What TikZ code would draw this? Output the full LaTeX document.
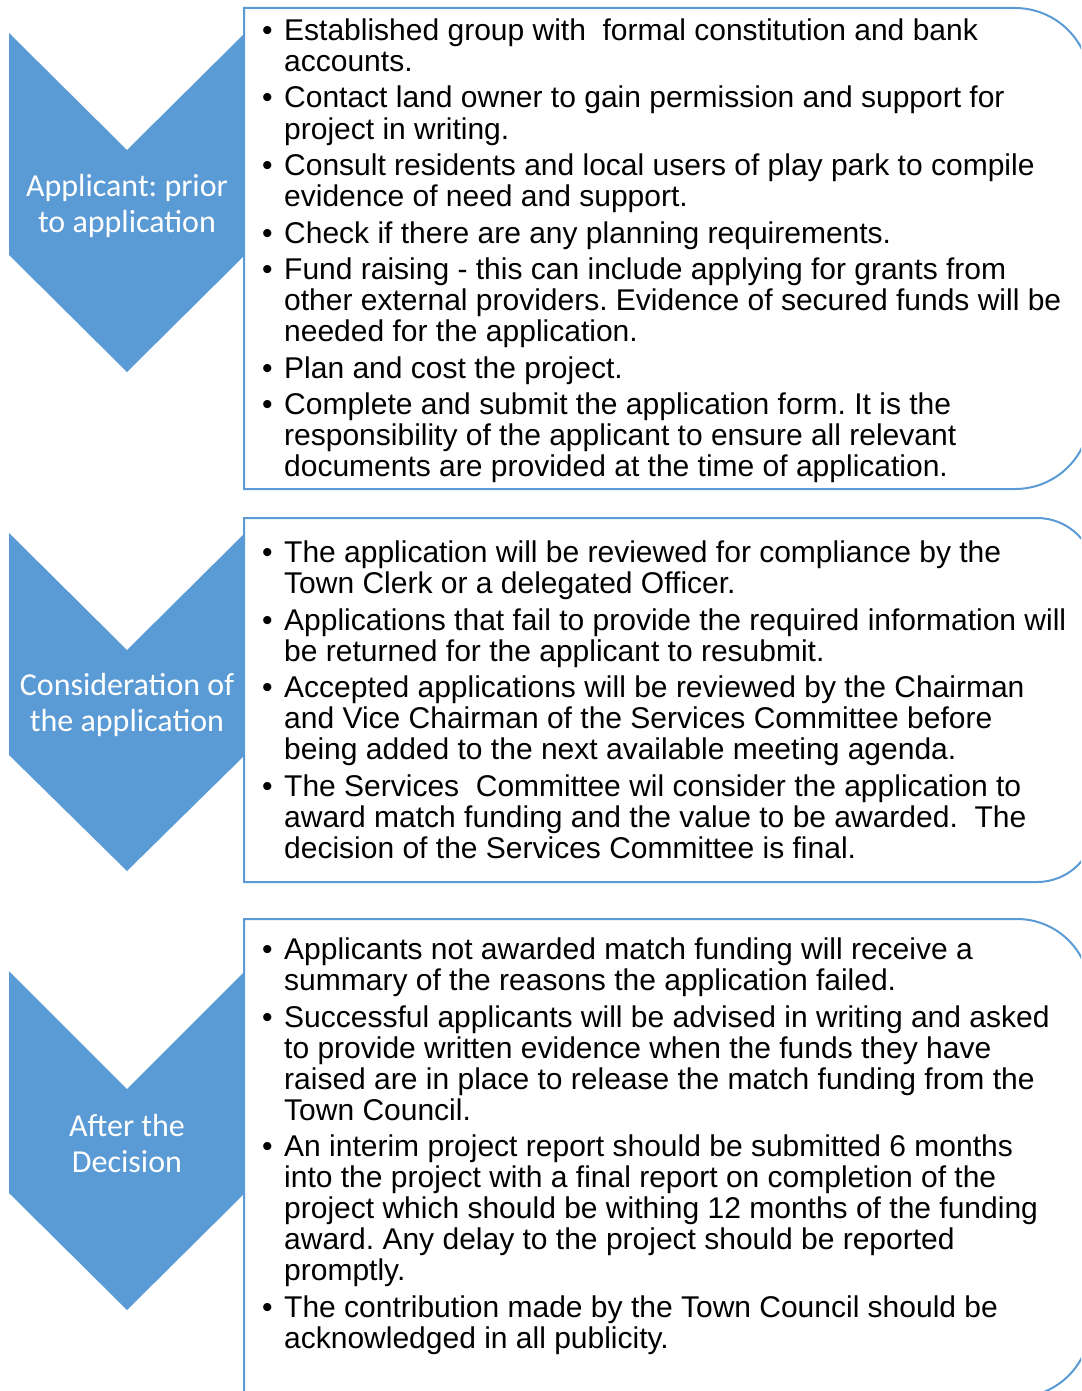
\documentclass[tikz,border=0pt]{standalone}
\usepackage{fontspec}
\setmainfont{Liberation Sans}
\newfontfamily\chevfont{Carlito}
\definecolor{acc}{HTML}{5B9BD5}
\frenchspacing
\newcommand\itm[3]{%
  \node[bulst] (#1b) at (262,#2+1.5) {•};
  \node[itmst] (#1) at (284,#2+1.5) {\begin{tabular}[t]{@{}l@{}}#3\end{tabular}};}
\begin{document}
\begin{tikzpicture}[x=1pt,y=-1pt,
  chev/.style={fill=acc},
  cbox/.style={draw=acc,line width=2pt,fill=white},
  clab/.style={text=white,font=\chevfont\fontsize{32}{36}\selectfont,align=center,inner sep=0pt},
  bulst/.style={anchor=base west,inner sep=0pt,font=\fontsize{30}{31}\selectfont\frenchspacing},
  itmst/.style={anchor=base west,inner sep=0pt,font=\fontsize{30}{31}\selectfont\frenchspacing}]
\useasboundingbox (0,0) rectangle (1081,1391);
\begin{scope}
\clip (0,0) rectangle (1081,1391);
% chevrons
\fill[chev] (9,33) -- (127,150) -- (245,33) -- (245,255) -- (127,372) -- (9,255) -- cycle;
\fill[chev] (9,533) -- (127,650) -- (245,533) -- (245,755) -- (127,871) -- (9,755) -- cycle;
\fill[chev] (9,971) -- (127,1089) -- (245,971) -- (245,1193) -- (127,1310) -- (9,1193) -- cycle;
% boxes
\draw[cbox] (244,8) -- (1015,8) arc(-90:0:75) -- (1090,414) arc(0:90:75) -- (244,489) -- cycle;
\draw[cbox] (244,518) -- (1037,518) arc(-90:0:58) -- (1095,824) arc(0:90:58) -- (244,882) -- cycle;
\draw[cbox] (244,919) -- (1017,919) arc(-90:0:73) -- (1090,1324) arc(0:90:73) -- (244,1397) -- cycle;
\end{scope}
% chevron labels
\node[clab] (c1) at (127,206) {Applicant: prior\\to application};
\node[clab] (c2) at (127,705) {Consideration of\\the application};
\node[clab] (c3) at (127,1143) {After the\\Decision};
% box 1
\itm{a1}{39}{Established group with~ formal constitution and bank\\accounts.}
\itm{a2}{106.5}{Contact land owner to gain permission and support for\\project in writing.}
\itm{a3}{174}{Consult residents and local users of play park to compile\\evidence of need and support.}
\itm{a4}{241.5}{Check if there are any planning requirements.}
\itm{a5}{278}{Fund raising - this can include applying for grants from\\other external providers. Evidence of secured funds will be\\needed for the application.}
\itm{a6}{376.5}{Plan and cost the project.}
\itm{a7}{413}{Complete and submit the application form. It is the\\responsibility of the applicant to ensure all relevant\\documents are provided at the time of application.}
% box 2
\itm{b1}{561}{The application will be reviewed for compliance by the\\Town Clerk or a delegated Officer.}
\itm{b2}{628.5}{Applications that fail to provide the required information will\\be returned for the applicant to resubmit.}
\itm{b3}{696}{Accepted applications will be reviewed by the Chairman\\and Vice Chairman of the Services Committee before\\being added to the next available meeting agenda.}
\itm{b4}{794.5}{The Services~ Committee wil consider the application to\\award match funding and the value to be awarded.~ The\\decision of the Services Committee is final.}
% box 3
\itm{d1}{958}{Applicants not awarded match funding will receive a\\summary of the reasons the application failed.}
\itm{d2}{1025.5}{Successful applicants will be advised in writing and asked\\to provide written evidence when the funds they have\\raised are in place to release the match funding from the\\Town Council.}
\itm{d3}{1155}{An interim project report should be submitted 6 months\\into the project with a final report on completion of the\\project which should be withing 12 months of the funding\\award. Any delay to the project should be reported\\promptly.}
\itm{d4}{1315.5}{The contribution made by the Town Council should be\\acknowledged in all publicity.}
\end{tikzpicture}
\end{document}
